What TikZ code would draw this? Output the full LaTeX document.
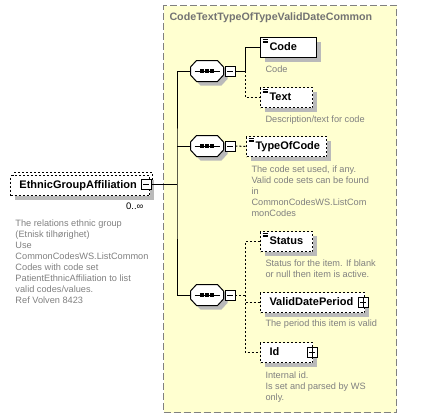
\documentclass[tikz,border=0pt]{standalone}
\usepackage{fontspec}
\setmainfont{Liberation Sans}
\usetikzlibrary{shadows}

\definecolor{grpfill}{RGB}{255,255,208}
\definecolor{doctext}{RGB}{128,128,128}

% octagon of a sequence compositor, drawn over an empty node
\newcommand\seqoct[1]{%
  \filldraw[fill=white, line width=1pt,
            general shadow={fill=black!27, shadow xshift=4pt, shadow yshift=-4pt}]
    ([yshift=4pt]#1.west) -- ([xshift=6pt]#1.north west)
    -- ([xshift=-6pt]#1.north east) -- ([yshift=4pt]#1.east)
    -- ([yshift=-4pt]#1.east) -- ([xshift=-6pt]#1.south east)
    -- ([xshift=6pt]#1.south west) -- ([yshift=-4pt]#1.west) -- cycle;
  \draw[line width=1pt] ([xshift=4pt]#1.west) -- ([xshift=-4pt]#1.east);
  \foreach \d in {-5,0,5}
    \fill[black] ([xshift=\d pt]#1.center) +(-1.8,-1.8) rectangle +(1.8,1.8);}

\begin{document}
\begin{tikzpicture}[x=1pt, y=-1pt, line width=1pt,
    elem/.style={draw, fill=white, anchor=north west, minimum height=20pt,
                 inner ysep=0pt, inner xsep=9pt, align=left,
                 text height=8pt, text depth=2pt,
                 font=\fontsize{11}{13}\selectfont\bfseries,
                 general shadow={fill=black!27, shadow xshift=4pt, shadow yshift=-4pt}},
    optelem/.style={elem, dash pattern=on 2pt off 2pt},
    simple/.style={path picture={
        \foreach \d in {2,3.5,5}
          \draw[solid, black, line width=.6pt]
            ([shift={(2,\d)}]path picture bounding box.north west) -- ++(5,0);}},
    tog/.style={draw, solid, fill=white, minimum size=10pt, inner sep=0pt,
                line width=.8pt,
                general shadow={fill=black, shadow xshift=1pt, shadow yshift=-1pt}},
    minus/.style={tog, path picture={
        \draw[black, line width=.8pt] ([xshift=2pt]path picture bounding box.west)
          -- ([xshift=-2pt]path picture bounding box.east);}},
    plus/.style={tog, path picture={
        \draw[black, line width=.8pt] ([xshift=2pt]path picture bounding box.west)
          -- ([xshift=-2pt]path picture bounding box.east);
        \draw[black, line width=.8pt] ([yshift=2pt]path picture bounding box.north)
          -- ([yshift=-2pt]path picture bounding box.south);}},
    seq/.style={inner sep=0pt, minimum width=32pt, minimum height=20pt,
                append after command={\pgfextra{\seqoct{\tikzlastnode}}}},
    doc/.style={anchor=north west, inner sep=0pt, align=left, text=doctext,
                font=\fontsize{9.2}{11}\selectfont},
    link/.style={dash pattern=on 2pt off 2pt}]

  \useasboundingbox (0,0) rectangle (428,418);

  % complex type group
  \node (grp) [draw=black!50, fill=grpfill, dash pattern=on 7pt off 3pt,
               anchor=north west, minimum width=233pt, minimum height=407pt,
               inner sep=0pt] at (163,5) {};
  \node (grp-title) [anchor=north west, inner sep=0pt, text=black!55,
                     font=\fontsize{10.7}{13}\selectfont\bfseries] at (169,12)
    {CodeTextTypeOfTypeValidDateCommon};

  % root element (unbounded, so a second box behind)
  \node (ega-back) [draw, fill=white, dash pattern=on 2pt off 2pt,
                    anchor=north west, minimum width=139pt, minimum height=20pt,
                    inner sep=0pt] at (13,172) {};
  \node (ega) [optelem, text width=121pt] at (10,175) {EthnicGroupAffiliation};
  \node (ega-m) [minus] at (146,184) {};
  \node (ega-occ) [anchor=north east, inner sep=0pt,
                   font=\fontsize{9.5}{11}\selectfont] at (144,202) {0..\char"221E};
  \node (ega-doc) [doc] at (15,219)
    {The relations ethnic group\\(Etnisk tilhørighet)\\Use\\
     CommonCodesWS.ListCommon\\Codes with code set\\
     PatientEthnicAffiliation to list\\valid codes/values.\\Ref Volven 8423};

  % sequences
  \node (s1) [seq] at (207,71) {};
  \node (s1-m) [minus] at (230,71) {};
  \node (s2) [seq] at (207,146) {};
  \node (s2-m) [minus] at (230,146) {};
  \node (s3) [seq] at (207,295) {};
  \node (s3-m) [minus] at (230,295) {};

  % children
  \node (code) [elem, simple, text width=38pt] at (260,37) {Code};
  \node (code-doc) [doc] at (265,65) {Code};
  \node (text) [optelem, simple, text width=34pt] at (260,87) {Text};
  \node (text-doc) [doc] at (265,115) {Description/text for code};

  \node (toc) [optelem, simple, text width=62pt] at (246,136) {TypeOfCode};
  \node (toc-doc) [doc] at (251,165)
    {The code set used, if any.\\Valid code sets can be found\\in\\
     CommonCodesWS.ListCom\\monCodes};

  \node (status) [optelem, simple, text width=34pt] at (260,231) {Status};
  \node (status-doc) [doc] at (265,259)
    {Status for the item. If blank\\or null then item is active.};
  \node (vdp) [optelem, text width=86pt] at (260,292) {ValidDatePeriod};
  \node (vdp-p) [plus] at (363,302) {};
  \node (vdp-doc) [doc] at (265,319) {The period this item is valid};
  \node (id) [optelem, text width=34pt] at (260,342) {Id};
  \node (id-p) [plus] at (312,352) {};
  \node (id-doc) [doc] at (265,371)
    {Internal id.\\Is set and parsed by WS\\only.};

  % connectors
  \coordinate (fork) at (177,184);
  \coordinate (b1) at (245,71);
  \coordinate (b3) at (245,295);
  \draw (ega-m.east) -- (fork);
  \draw (s1.west) -| (fork) |- (s3.west);
  \draw (s2.west) -- (s2.west -| fork);
  \draw (s1-m.east) -- (b1) |- (code.west);
  \draw[link] (b1) |- (text.west);
  \draw[link] (s2-m.east) -- (toc.west);
  \draw[link] (s3-m.east) -- (b3) |- (status.west);
  \draw[link] (b3) |- (vdp.west);
  \draw[link] (b3) |- (id.west);
\end{tikzpicture}
\end{document}
